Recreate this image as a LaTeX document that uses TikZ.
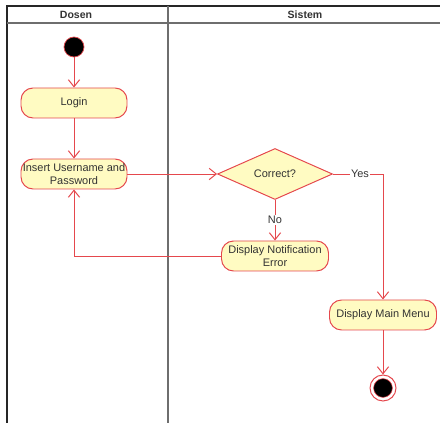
\documentclass[tikz,border=0pt]{standalone}
\usepackage{fontspec}
\setmainfont{Liberation Sans}
\usepackage{tikz}
\usetikzlibrary{shapes.geometric,arrows.meta}
\definecolor{actred}{HTML}{E5484D}
\definecolor{actfill}{HTML}{FFFBC2}
\definecolor{lanegray}{HTML}{6E6E6E}
\definecolor{txtgray}{HTML}{333333}

\begin{document}
\begin{tikzpicture}
          [>= {Straight Barb[length=5pt,width=8pt]}, font=\fontsize{7.8}{8.8}\selectfont,
           action/.style = {draw=actred, fill=actfill, rounded corners=0.3cm, line width=0.7pt,
                            minimum width=2.65cm, minimum height=0.75cm, align=center, text=txtgray, inner sep=1pt},
           decision/.style = {diamond, draw=actred, fill=actfill, line width=0.7pt, aspect=2.25,
                              minimum width=2.875cm, minimum height=1.275cm, inner sep=0pt, text=txtgray},
           flow/.style = {draw=actred, line width=0.7pt, ->},
           guard/.style = {fill=white, inner sep=1pt, text=txtgray}]
          \useasboundingbox (0,0) rectangle (11,-10.575);
          % swimlanes
          \draw[line width=1.1pt, black!85] (0.175,-10.575) -- (0.175,-0.15) -- (11,-0.15);
          \draw[line width=1.3pt, lanegray] (0.175,-0.575) -- (11,-0.575);
          \draw[line width=1.3pt, lanegray] (4.2,-0.15) -- (4.2,-10.575);
          \node[text=txtgray, font=\fontsize{7.5}{8.5}\selectfont\bfseries] (dosen) at (1.9,-0.37) {Dosen};
          \node[text=txtgray, font=\fontsize{7.5}{8.5}\selectfont\bfseries] (sistem) at (7.625,-0.37) {Sistem};
          % nodes
          \node[circle, fill=black, draw=actred, line width=0.5pt, minimum size=0.5cm, inner sep=0pt] (start) at (1.85,-1.175) {};
          \node[action] (login) at (1.85,-2.575) {Login};
          \node[action] (insert) at (1.85,-4.35) {Insert Username and\\Password};
          \node[decision] (correct) at (6.875,-4.35) {Correct?};
          \node[action, minimum width=2.675cm] (notif) at (6.875,-6.4) {Display Notification\\Error};
          \node[action, minimum width=2.675cm] (menu) at (9.575,-7.875) {Display Main Menu};
          \node[circle, draw=actred, fill=white, line width=0.7pt, minimum size=0.65cm, inner sep=0pt] (finish) at (9.575,-9.7) {};
          \node[circle, fill=black, draw=actred, line width=0.4pt, minimum size=0.47cm, inner sep=0pt] at (finish) {};
          % flows
          \draw[flow] (start) -- (login);
          \draw[flow] (login) -- (insert);
          \draw[flow] (insert) -- (correct);
          \draw[flow] (correct) -- node[guard] {No} (notif);
          \draw[flow] (correct.east) -| node[guard, pos=0.27] {Yes} (menu.north);
          \draw[flow] (notif.west) -| (insert.south);
          \draw[flow] (menu) -- (finish);
        \end{tikzpicture}
\end{document}
